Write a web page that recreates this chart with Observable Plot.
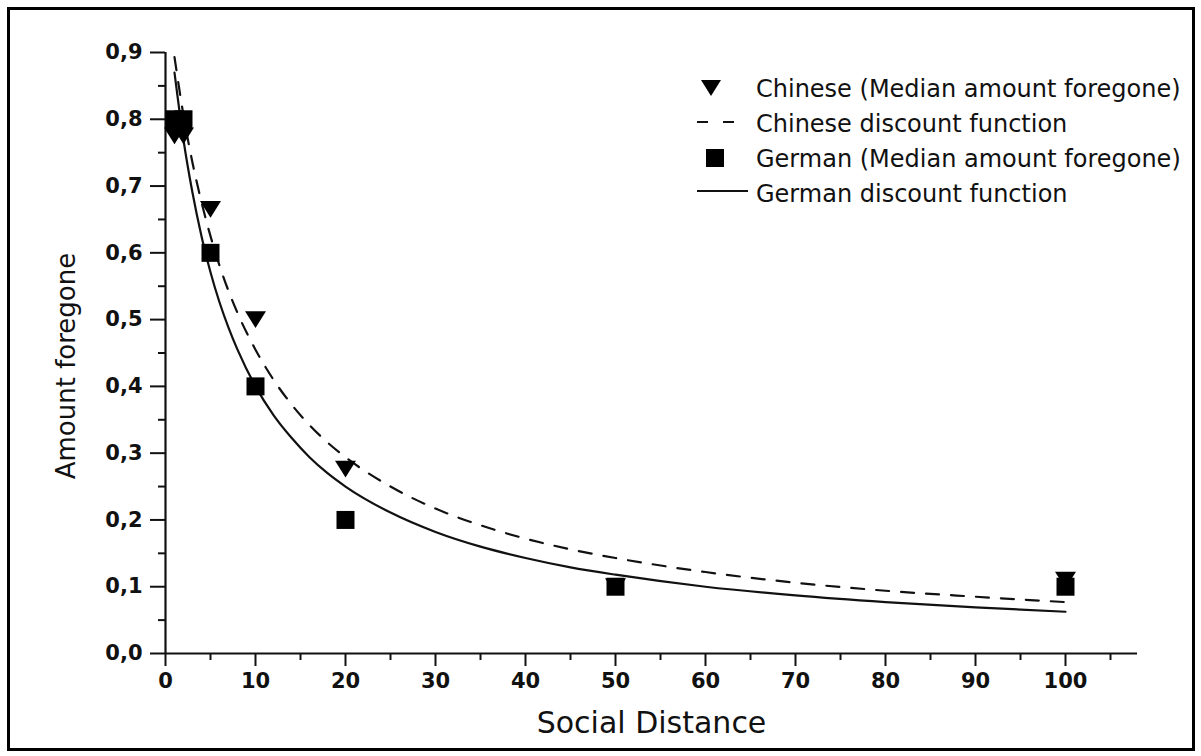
<!DOCTYPE html>
<html>
<head>
<meta charset="utf-8">
<script src="https://cdn.jsdelivr.net/npm/d3@7"></script>
<script src="https://cdn.jsdelivr.net/npm/@observablehq/plot@0.6"></script>
<style>
  html, body { margin: 0; padding: 0; background: #fff; }
  #wrap { position: relative; width: 1201px; height: 756px; overflow: hidden; background: #fff; }
  #frame { position: absolute; left: 7px; top: 7px; width: 1182px; height: 738px; border: 3px solid #000; pointer-events: none; }
  #legend { position: absolute; left: 0; top: 0; pointer-events: none; }
</style>
</head>
<body>
<div id="wrap"><div id="frame"></div></div>
<script>
// ---- Data ----
const xTicks = [0, 10, 20, 30, 40, 50, 60, 70, 80, 90, 100];
const xTickLabels = ["0", "10", "20", "30", "40", "50", "60", "70", "80", "90", "100"];
const xMinorTicks = [5, 15, 25, 35, 45, 55, 65, 75, 85, 95, 105];
const yTicks = [0, 0.1, 0.2, 0.3, 0.4, 0.5, 0.6, 0.7, 0.8, 0.9];
const yTickLabels = ["0,0", "0,1", "0,2", "0,3", "0,4", "0,5", "0,6", "0,7", "0,8", "0,9"];
const yMinorTicks = [0.05, 0.15, 0.25, 0.35, 0.45, 0.55, 0.65, 0.75, 0.85];

const socialDistance = [1, 2, 5, 10, 20, 50, 100];
const chineseMedian = [0.775, 0.775, 0.665, 0.5, 0.276, 0.1, 0.11];
const germanMedian = [0.8, 0.8, 0.6, 0.4, 0.2, 0.1, 0.1];

const curveDistance = [1, 2, 3, 4, 5, 6, 7, 8, 10, 12, 14, 16, 18, 20, 25, 30, 35, 40, 45, 50, 60, 70, 80, 90, 100];
const chineseCurve = [0.893, 0.806, 0.735, 0.676, 0.625, 0.581, 0.543, 0.510, 0.455, 0.410, 0.373, 0.342, 0.316, 0.294, 0.250, 0.217, 0.192, 0.172, 0.156, 0.143, 0.122, 0.106, 0.094, 0.085, 0.077];
const germanCurve = [0.870, 0.769, 0.690, 0.625, 0.571, 0.526, 0.488, 0.455, 0.400, 0.357, 0.323, 0.294, 0.270, 0.250, 0.211, 0.182, 0.160, 0.143, 0.129, 0.118, 0.100, 0.087, 0.077, 0.069, 0.0625];

const xLabel = "Social Distance";
const yLabel = "Amount foregone";
const legendLabels = [
  "Chinese (Median amount foregone)",
  "Chinese discount function",
  "German (Median amount foregone)",
  "German discount function"
];

// ---- Symbols ----
const triangleDown = {
  draw(ctx, size) {
    const r = Math.sqrt(size / Math.PI);
    ctx.moveTo(-r, -0.8 * r);
    ctx.lineTo(r, -0.8 * r);
    ctx.lineTo(0, 0.8 * r);
    ctx.closePath();
  }
};
const squareSym = {
  draw(ctx, size) {
    const r = Math.sqrt(size / Math.PI);
    ctx.rect(-r, -r, 2 * r, 2 * r);
  }
};

const font = "DejaVu Sans";

const chart = Plot.plot({
  width: 1201,
  height: 756,
  marginLeft: 165,
  marginRight: 64,
  marginTop: 52,
  marginBottom: 103,
  style: { fontFamily: font, color: "#111", background: "transparent", overflow: "visible" },
  x: { domain: [0, 108] },
  y: { domain: [0, 0.9] },
  marks: [
    Plot.axisX({ ticks: xTicks, tickSize: 13, tickPadding: 7, fontSize: 21, fontWeight: "bold", strokeWidth: 2, label: null,
      tickFormat: d => xTickLabels[xTicks.indexOf(d)] }),
    Plot.axisX({ ticks: xMinorTicks, tickSize: 7, strokeWidth: 2, label: null, tickFormat: () => "" }),
    Plot.axisY({ ticks: yTicks, tickSize: 15, tickPadding: 8, fontSize: 21, fontWeight: "bold", strokeWidth: 2, label: null,
      tickFormat: d => yTickLabels[yTicks.indexOf(d)] }),
    Plot.axisY({ ticks: yMinorTicks, tickSize: 7, strokeWidth: 2, label: null, tickFormat: () => "" }),
    Plot.ruleY([0], { stroke: "#111", strokeWidth: 2.2 }),
    Plot.ruleX([0], { stroke: "#111", strokeWidth: 2.2 }),
    Plot.line(curveDistance, { x: d => d, y: (d, i) => chineseCurve[i], curve: "monotone-x",
      stroke: "#111", strokeWidth: 2.2, strokeDasharray: "13,12" }),
    Plot.line(curveDistance, { x: d => d, y: (d, i) => germanCurve[i], curve: "monotone-x",
      stroke: "#111", strokeWidth: 2.2 }),
    Plot.dot(socialDistance, { x: d => d, y: (d, i) => chineseMedian[i], symbol: triangleDown, r: 10.5,
      fill: "#000", stroke: "none" }),
    Plot.dot(socialDistance, { x: d => d, y: (d, i) => germanMedian[i], symbol: squareSym, r: 9,
      fill: "#000", stroke: "none" }),
    Plot.text([xLabel], { frameAnchor: "bottom", dy: 70, lineAnchor: "middle", fontSize: 30, fill: "#111" })
  ]
});
const wrap = document.getElementById("wrap");
chart.style.position = "absolute";
chart.style.left = "0px";
chart.style.top = "0px";
wrap.insertBefore(chart, wrap.firstChild);

// ---- Overlay: y-axis title and legend ----
const lg = d3.select(wrap).append("svg")
  .attr("id", "legend")
  .attr("width", 1201).attr("height", 756)
  .style("font-family", font);

lg.append("text")
  .attr("transform", "translate(66,366) rotate(-90)")
  .attr("text-anchor", "middle").attr("dy", "0.36em")
  .attr("font-size", 26).attr("fill", "#111").text(yLabel);

const rowY = [88, 123, 158, 193];
const textX = 756;
legendLabels.forEach((t, i) => {
  lg.append("text").attr("x", textX).attr("y", rowY[i]).attr("dy", "0.36em")
    .attr("font-size", 24).attr("fill", "#111").text(t);
});
lg.append("path").attr("d", d3.symbol(triangleDown, Math.PI * 10 * 10)()).attr("transform", `translate(711,${rowY[0]})`).attr("fill", "#000");
lg.append("line").attr("x1", 697).attr("x2", 738).attr("y1", rowY[1] - 1).attr("y2", rowY[1] - 1)
  .attr("stroke", "#111").attr("stroke-width", 2.2).attr("stroke-dasharray", "11,15");
lg.append("path").attr("d", d3.symbol(squareSym, Math.PI * 9 * 9)()).attr("transform", `translate(715,${rowY[2]})`).attr("fill", "#000");
lg.append("line").attr("x1", 697).attr("x2", 748).attr("y1", rowY[3] - 2).attr("y2", rowY[3] - 2)
  .attr("stroke", "#111").attr("stroke-width", 2.2);
</script>
</body>
</html>
